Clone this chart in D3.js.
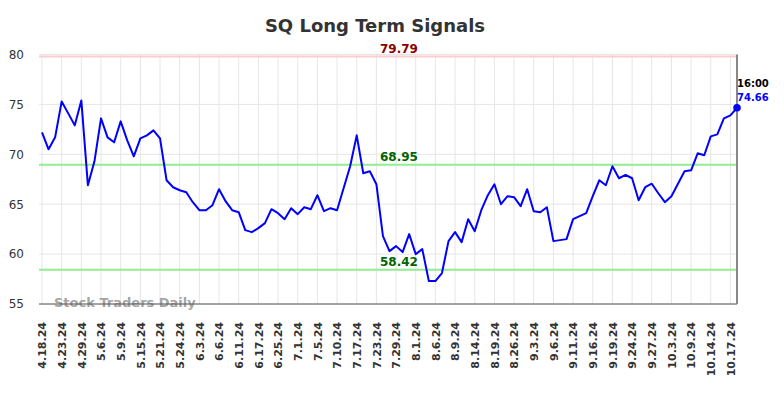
<!DOCTYPE html>
<html>
<head>
<meta charset="utf-8">
<script src="https://cdn.jsdelivr.net/npm/d3@7"></script>
<style>
  body { margin: 0; background: #fff; }
  svg { display: block; font-family: "DejaVu Sans", sans-serif; }
</style>
</head>
<body>
<svg width="784" height="398"></svg>
<script>
// signal values, one per trading session (last one is 10.18.24 close)
const values = [
  72.2, 70.5, 71.7, 75.3, 74.1, 72.9, 75.4, 66.9, 69.3, 73.6,
  71.7, 71.2, 73.3, 71.4, 69.8, 71.6, 71.9, 72.4, 71.6, 67.4,
  66.7, 66.4, 66.2, 65.2, 64.4, 64.4, 64.9, 66.5, 65.3, 64.4,
  64.2, 62.4, 62.2, 62.6, 63.1, 64.5, 64.1, 63.5, 64.6, 64.0,
  64.7, 64.5, 65.9, 64.3, 64.6, 64.4, 66.6, 68.8, 71.9, 68.1,
  68.3, 67.0, 61.8, 60.3, 60.8, 60.2, 62.0, 60.0, 60.5, 57.3,
  57.3, 58.1, 61.3, 62.2, 61.2, 63.5, 62.3, 64.4, 65.9, 67.0,
  65.0, 65.8, 65.7, 64.8, 66.5, 64.3, 64.2, 64.7, 61.3, 61.4,
  61.5, 63.5, 63.8, 64.1, 65.8, 67.4, 66.9, 68.8, 67.6, 67.95,
  67.6, 65.4, 66.7, 67.05, 66.1, 65.2, 65.8, 67.05, 68.3, 68.4,
  70.1, 69.9, 71.8, 72.0, 73.6, 73.9, 74.66
];

// every third session carries a date label
const tickLabels = [
  "4.18.24", "4.23.24", "4.29.24", "5.6.24", "5.9.24", "5.15.24", "5.21.24",
  "5.24.24", "6.3.24", "6.6.24", "6.11.24", "6.17.24", "6.25.24", "7.1.24",
  "7.5.24", "7.10.24", "7.17.24", "7.23.24", "7.29.24", "8.1.24", "8.6.24",
  "8.9.24", "8.14.24", "8.19.24", "8.26.24", "9.3.24", "9.6.24", "9.11.24",
  "9.16.24", "9.19.24", "9.24.24", "9.27.24", "10.3.24", "10.9.24",
  "10.14.24", "10.17.24"
];
const tickEvery = 3;

const yTicks = [55, 60, 65, 70, 75, 80];

const resistance = 79.79;
const supports = [68.95, 58.42];
const lastTime = "16:00";

const svg = d3.select("svg"),
      plotLeft = 39, plotRight = 737, plotTop = 54.5, plotBottom = 304;

const x = d3.scalePoint().domain(d3.range(values.length)).range([42, 737]);
const y = d3.scaleLinear().domain([55, 80]).range([plotBottom, plotTop]);

// title
svg.append("text")
   .attr("x", 375).attr("y", 32)
   .attr("text-anchor", "middle")
   .attr("font-size", 18).attr("font-weight", "bold")
   .attr("fill", "#333")
   .text("SQ Long Term Signals");

// grid
const tickIdx = tickLabels.map((d, i) => i * tickEvery);

svg.append("g").selectAll("line").data(yTicks).join("line")
   .attr("x1", plotLeft).attr("x2", plotRight)
   .attr("y1", d => y(d)).attr("y2", d => y(d))
   .attr("stroke", "#e6e6e6").attr("stroke-width", 1);

svg.append("g").selectAll("line").data(tickIdx).join("line")
   .attr("x1", d => x(d)).attr("x2", d => x(d))
   .attr("y1", plotTop).attr("y2", plotBottom)
   .attr("stroke", "#e6e6e6").attr("stroke-width", 1);

// y axis labels
const yAxis = svg.append("g")
   .attr("transform", `translate(${plotLeft},0)`)
   .call(d3.axisLeft(y).tickValues(yTicks).tickSize(0).tickPadding(15));
yAxis.select(".domain").remove();
yAxis.selectAll("text").attr("font-size", 12).attr("fill", "#333")
     .attr("font-family", "DejaVu Sans");

// x axis labels
const xAxis = svg.append("g")
   .attr("transform", `translate(0,${plotBottom})`)
   .call(d3.axisBottom(x).tickValues(tickIdx).tickSize(0)
           .tickFormat(d => tickLabels[d / tickEvery]));
xAxis.select(".domain").remove();
xAxis.selectAll("text")
     .attr("font-size", 11).attr("font-weight", "bold").attr("fill", "#333")
     .attr("font-family", "DejaVu Sans")
     .attr("text-anchor", "end")
     .attr("transform", "rotate(-90)")
     .attr("x", -18).attr("y", 0).attr("dy", "0.35em");

// signal levels
svg.append("line")
   .attr("x1", plotLeft).attr("x2", plotRight + 1)
   .attr("y1", y(resistance)).attr("y2", y(resistance))
   .attr("stroke", "#ffcccc").attr("stroke-width", 2);

svg.append("g").selectAll("line").data(supports).join("line")
   .attr("x1", plotLeft).attr("x2", plotRight)
   .attr("y1", d => y(d)).attr("y2", d => y(d))
   .attr("stroke", "#90ee90").attr("stroke-width", 2);

svg.append("text")
   .attr("x", 399).attr("y", y(resistance) - 4)
   .attr("text-anchor", "middle")
   .attr("font-size", 12).attr("font-weight", "bold").attr("fill", "#8b0000")
   .text(resistance.toFixed(2));

svg.append("g").selectAll("text").data(supports).join("text")
   .attr("x", 399).attr("y", d => y(d) - 4)
   .attr("text-anchor", "middle")
   .attr("font-size", 12).attr("font-weight", "bold").attr("fill", "#006400")
   .text(d => d.toFixed(2));

// watermark
svg.append("text")
   .attr("x", 54).attr("y", 307)
   .attr("font-size", 13).attr("font-weight", "bold")
   .attr("fill", "#999").attr("fill-opacity", 0.9)
   .text("Stock Traders Daily");

// axis frame
svg.append("line")
   .attr("x1", plotLeft).attr("x2", plotRight)
   .attr("y1", plotBottom).attr("y2", plotBottom)
   .attr("stroke", "#555").attr("stroke-width", 1);

svg.append("line")
   .attr("x1", plotRight).attr("x2", plotRight)
   .attr("y1", plotTop).attr("y2", plotBottom)
   .attr("stroke", "#888").attr("stroke-width", 2);

// series line
svg.append("path")
   .datum(values)
   .attr("fill", "none")
   .attr("stroke", "#0000ff").attr("stroke-width", 2)
   .attr("stroke-linejoin", "round")
   .attr("d", d3.line().x((d, i) => x(i)).y(d => y(d)));

// last value marker
const lastI = values.length - 1;
svg.append("circle")
   .attr("cx", x(lastI)).attr("cy", y(values[lastI]))
   .attr("r", 3.8).attr("fill", "#0000ff");

svg.append("text")
   .attr("x", x(lastI)).attr("y", 87)
   .attr("font-size", 10).attr("font-weight", "bold").attr("fill", "#000")
   .text(lastTime);

svg.append("text")
   .attr("x", x(lastI)).attr("y", 101)
   .attr("font-size", 10).attr("font-weight", "bold").attr("fill", "#0000ff")
   .text(values[lastI].toFixed(2));
</script>
</body>
</html>
